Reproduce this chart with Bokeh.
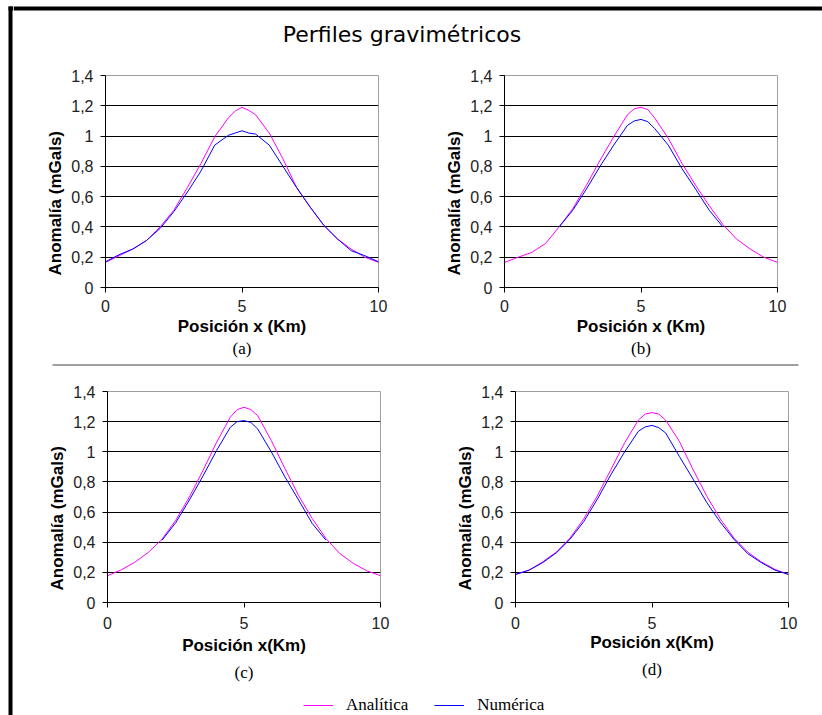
from bokeh.plotting import figure
from bokeh.layouts import row, column
from bokeh.models import Range1d, FixedTicker, Title, Legend, LegendItem
from bokeh.embed import file_html
from bokeh.resources import INLINE
from bokeh.core.properties import value

# ---------------- data ----------------
x_full = [0, 0.5, 1, 1.5, 2, 2.5, 3, 3.5, 4, 4.5, 4.75, 5, 5.25, 5.5, 6, 6.5, 7, 7.5, 8, 8.5, 9, 9.5, 10]
x_mid = [2, 2.5, 3, 3.5, 4, 4.5, 4.75, 5, 5.25, 5.5, 6, 6.5, 7, 7.5, 8]

a_analitica = [0.166, 0.21, 0.254, 0.31, 0.40, 0.51, 0.66, 0.82, 0.995, 1.12, 1.165, 1.19,
               1.17, 1.14, 1.02, 0.85, 0.66, 0.53, 0.41, 0.32, 0.254, 0.20, 0.166]
a_numerica = [0.17, 0.217, 0.254, 0.31, 0.39, 0.50, 0.63, 0.77, 0.94, 1.005, 1.02, 1.035,
              1.02, 1.013, 0.94, 0.80, 0.66, 0.53, 0.41, 0.32, 0.243, 0.21, 0.17]

b_analitica = [0.166, 0.20, 0.232, 0.29, 0.40, 0.52, 0.675, 0.84, 0.995, 1.14, 1.18, 1.19,
               1.175, 1.12, 0.985, 0.82, 0.675, 0.54, 0.416, 0.32, 0.254, 0.20, 0.166]
b_numerica = [0.40, 0.51, 0.65, 0.80, 0.94, 1.07, 1.10, 1.11, 1.095, 1.05, 0.94, 0.785, 0.65, 0.51, 0.40]

c_analitica = [0.178, 0.216, 0.267, 0.333, 0.42, 0.546, 0.70, 0.877, 1.064, 1.23, 1.28, 1.295,
               1.28, 1.24, 1.075, 0.888, 0.71, 0.557, 0.425, 0.326, 0.26, 0.21, 0.178]
c_numerica = [0.414, 0.53, 0.68, 0.84, 1.01, 1.163, 1.20, 1.207, 1.195, 1.152, 1.0, 0.833, 0.68, 0.524, 0.414]

d_analitica = [0.186, 0.215, 0.27, 0.335, 0.428, 0.555, 0.708, 0.884, 1.06, 1.21, 1.25, 1.26,
               1.25, 1.21, 1.07, 0.884, 0.708, 0.555, 0.428, 0.335, 0.27, 0.22, 0.186]
d_numerica = [0.186, 0.215, 0.265, 0.33, 0.42, 0.537, 0.686, 0.85, 1.0, 1.136, 1.165, 1.175,
              1.16, 1.125, 0.97, 0.82, 0.665, 0.533, 0.42, 0.325, 0.265, 0.215, 0.186]

y_ticks = [0, 0.2, 0.4, 0.6, 0.8, 1.0, 1.2, 1.4]
y_tick_labels = ["0", "0,2", "0,4", "0,6", "0,8", "1", "1,2", "1,4"]
grid_ticks = [0.2, 0.4, 0.6, 0.8, 1.0, 1.2]
x_ticks = [0, 5, 10]
x_tick_labels = ["0", "5", "10"]

series_names = ["Analítica", "Numérica"]
series_colors = ["#FF00FF", "#0000FF"]

TITLE = "Perfiles gravimétricos"
Y_LABEL = "Anomalía (mGals)"

# ---------------- helpers ----------------
def blank(width, height, x0, x1, y0, y1):
    p = figure(width=width, height=height, x_range=Range1d(x0, x1), y_range=Range1d(y0, y1),
               output_backend="svg", toolbar_location=None, title_location=None,
               min_border=0, min_border_left=0, min_border_right=0,
               min_border_top=0, min_border_bottom=0)
    p.axis.visible = False
    p.grid.visible = False
    p.outline_line_color = None
    p.background_fill_color = "white"
    p.border_fill_color = "white"
    return p


def make_title(sub, standoff):
    kw = dict(text=sub, align="center", text_font="Liberation Serif",
              text_font_size="17px", text_font_style="normal", text_color="black")
    try:
        return Title(standoff=standoff, **kw)
    except Exception:
        return Title(standoff=0, **kw)


def panel(width, height, mbl, mbr, mbt, mbb, xa, ya, xn, yn, xlabel, sub,
          tick_standoff, lab_standoff, sub_standoff):
    p = figure(width=width, height=height, x_range=Range1d(0, 10), y_range=Range1d(0, 1.4),
               output_backend="svg", toolbar_location=None, title_location=None,
               min_border_left=mbl, min_border_right=mbr,
               min_border_top=mbt, min_border_bottom=mbb)
    p.outline_line_color = "#a0a0a0"
    p.outline_line_width = 1
    p.background_fill_color = "white"
    p.border_fill_color = "white"
    p.xgrid.visible = False
    p.ygrid.ticker = FixedTicker(ticks=grid_ticks)
    p.ygrid.grid_line_color = "black"
    p.ygrid.grid_line_width = 1

    p.line(xa, ya, line_color=series_colors[0], line_width=1)
    p.line(xn, yn, line_color=series_colors[1], line_width=1)

    for ax in (p.xaxis[0], p.yaxis[0]):
        ax.axis_line_color = "black"
        ax.major_tick_line_color = "black"
        ax.minor_tick_line_color = None
        ax.major_tick_out = 5
        ax.major_tick_in = 0
        ax.major_label_text_font = "Liberation Sans"
        ax.major_label_text_font_size = "16px"
        ax.major_label_text_color = "#222222"
        ax.axis_label_text_font = "Liberation Sans"
        ax.axis_label_text_font_size = "17px"
        ax.axis_label_text_font_style = "bold"
        ax.axis_label_text_color = "black"

    p.xaxis.ticker = FixedTicker(ticks=x_ticks)
    p.xaxis.major_label_overrides = dict(zip(x_ticks, x_tick_labels))
    p.xaxis.major_label_standoff = tick_standoff
    p.xaxis.axis_label = xlabel
    p.xaxis.axis_label_standoff = lab_standoff

    p.yaxis.ticker = FixedTicker(ticks=y_ticks)
    p.yaxis.major_label_overrides = dict(zip(y_ticks, y_tick_labels))
    p.yaxis.major_label_standoff = 7
    # the y label sits below the frame centre in the reference
    p.add_layout(Title(text=Y_LABEL, align="left", offset=12, standoff=7,
                       text_font="Liberation Sans", text_font_size="17px",
                       text_font_style="bold", text_color="black"), "left")

    p.add_layout(make_title(sub, sub_standoff), "below")
    return p


# ---------------- pieces ----------------
strip = blank(13, 715, 0, 13, 715, 0)
strip.quad(left=[8, 8], right=[12, 13], top=[6, 6], bottom=[715, 10],
           fill_color="black", line_color=None)

header = blank(809, 62, 13, 822, 62, 0)
header.quad(left=[13], right=[822], top=[6], bottom=[10], fill_color="black", line_color=None)
header.text(x=[401.5], y=[34], text=[TITLE], text_font=value("DejaVu Sans"),
            text_font_size="22px", text_align="center", text_baseline="middle",
            text_color="black")

pa = panel(400, 298, 92, 35, 13, 73, x_full, a_analitica, x_full, a_numerica,
           "Posición x (Km)", "(a)", 7, 2, -3)
pb = panel(409, 298, 91, 45, 13, 73, x_full, b_analitica, x_mid, b_numerica,
           "Posición x (Km)", "(b)", 7, 2, -3)

sep = blank(809, 10, 13, 822, 10, 0)
sep.segment(x0=[52], y0=[2.5], x1=[798], y1=[2.5], line_color="#404040", line_width=1)

pc = panel(400, 320, 94, 33, 21, 87, x_full, c_analitica, x_mid, c_numerica,
           "Posición x(Km)", "(c)", 9, 4, 6)
pd_ = panel(409, 320, 102, 34, 20, 88, x_full, d_analitica, x_full, d_numerica,
            "Posición x(Km)", "(d)", 9, 1, 6)

leg = blank(809, 25, 0, 1, 0, 1)
r1 = leg.line([-5, -4], [-5, -5], line_color=series_colors[0], line_width=1)
r2 = leg.line([-5, -4], [-5, -5], line_color=series_colors[1], line_width=1)
legend = Legend(items=[LegendItem(label=series_names[0], renderers=[r1]),
                       LegendItem(label=series_names[1], renderers=[r2])],
                orientation="horizontal", location=(290, 0),
                padding=0, margin=0, spacing=26, glyph_width=30, glyph_height=20,
                label_standoff=13, label_text_font="Liberation Serif",
                label_text_font_size="17px", label_text_color="black",
                border_line_color=None, background_fill_alpha=0)
leg.add_layout(legend, "center")

body = column(header, row(pa, pb, spacing=0), sep, row(pc, pd_, spacing=0), leg, spacing=0)
root = row(strip, body, spacing=0)

open("out.html", "w").write(file_html(root, INLINE))
